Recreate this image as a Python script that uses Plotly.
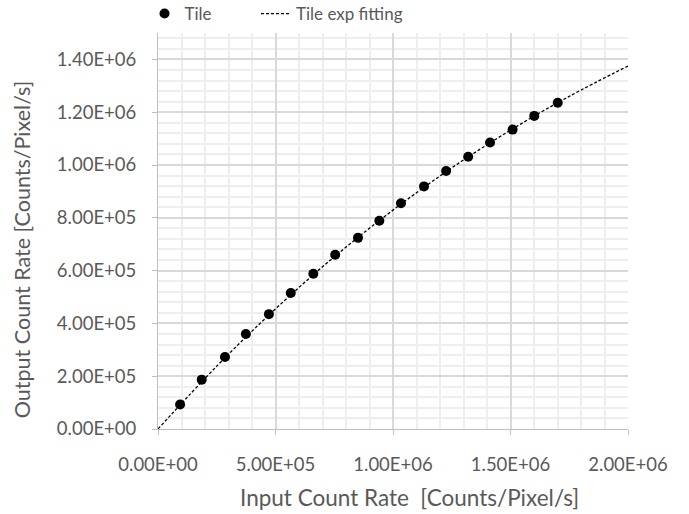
import plotly.graph_objects as go

# Measured tile response
input_rate = [94e3, 186e3, 285e3, 374e3, 472e3, 565e3, 661e3, 754e3, 851e3,
              942e3, 1034e3, 1132e3, 1226e3, 1320e3, 1413e3, 1509e3, 1601e3, 1701e3]
output_rate = [93e3, 187e3, 273e3, 360e3, 435e3, 515e3, 588e3, 660e3, 724e3,
               789e3, 855e3, 919e3, 977e3, 1031e3, 1085e3, 1134e3, 1186e3, 1236e3]

# Exponential fit curve
fit_x = [0, 250e3, 500e3, 750e3, 1000e3, 1250e3, 1500e3, 1750e3, 2000e3]
fit_y = [0, 238e3, 455e3, 652e3, 829e3, 989e3, 1132e3, 1260e3, 1375e3]

x_ticks = [0, 500e3, 1000e3, 1500e3, 2000e3]
y_ticks = [0, 200e3, 400e3, 600e3, 800e3, 1000e3, 1200e3, 1400e3]

TEXT = "#595959"
FONT = "Lato"

fig = go.Figure()
fig.add_trace(go.Scatter(
    x=input_rate, y=output_rate, mode="markers", name="Tile",
    marker=dict(color="black", size=10, line=dict(width=0)),
    legend="legend",
))
fig.add_trace(go.Scatter(
    x=fit_x, y=fit_y, mode="lines", name="Tile exp fitting",
    line=dict(color="black", width=1.3, dash="3px,2px", shape="spline"),
    legend="legend2",
))

axis_common = dict(
    showline=True, linecolor="#bfbfbf", linewidth=1,
    showgrid=True, gridcolor="#d9d9d9", gridwidth=1.5,
    zeroline=False, ticks="outside", ticklen=5, tickcolor="#bfbfbf",
    tickfont=dict(family=FONT, size=18.5, color=TEXT),
)

fig.update_xaxes(
    range=[0, 2000e3], tickvals=x_ticks,
    ticktext=[f"{v:.2E}" for v in x_ticks],
    ticklabelstandoff=14,
    minor=dict(dtick=100e3, tick0=0, showgrid=True, gridcolor="#eeeeee",
               gridwidth=1.5, ticks=""),
    **axis_common,
)
fig.update_yaxes(
    range=[0, 1500e3], tickvals=y_ticks,
    ticktext=[f"{v:.2E}" for v in y_ticks],
    ticklabelstandoff=12,
    minor=dict(dtick=40e3, tick0=0, showgrid=True, gridcolor="#eeeeee",
               gridwidth=1.5, ticks=""),
    **axis_common,
)

fig.add_annotation(
    text="Input Count Rate  [Counts/Pixel/s]", showarrow=False,
    xref="paper", yref="paper", x=0.536, y=-0.172,
    xanchor="center", yanchor="middle",
    font=dict(family=FONT, size=22.5, color=TEXT),
)
fig.add_annotation(
    text="Output Count Rate [Counts/Pixel/s]", showarrow=False, textangle=-90,
    xref="paper", yref="paper", x=-0.289, y=0.4545,
    xanchor="center", yanchor="middle",
    font=dict(family=FONT, size=21.5, color=TEXT),
)

legend_common = dict(
    orientation="h", xanchor="left", yref="paper", yanchor="middle",
    font=dict(family=FONT, size=17, color=TEXT),
    bgcolor="rgba(0,0,0,0)", itemwidth=30,
)
fig.update_layout(
    width=689, height=514,
    margin=dict(l=158, r=61, t=33, b=85, autoexpand=False),
    paper_bgcolor="white", plot_bgcolor="white",
    showlegend=True,
    legend=dict(x=-0.0287, y=1.048, **legend_common),
    legend2=dict(x=0.2085, y=1.048, **legend_common),
)

fig.write_html("out.html")
